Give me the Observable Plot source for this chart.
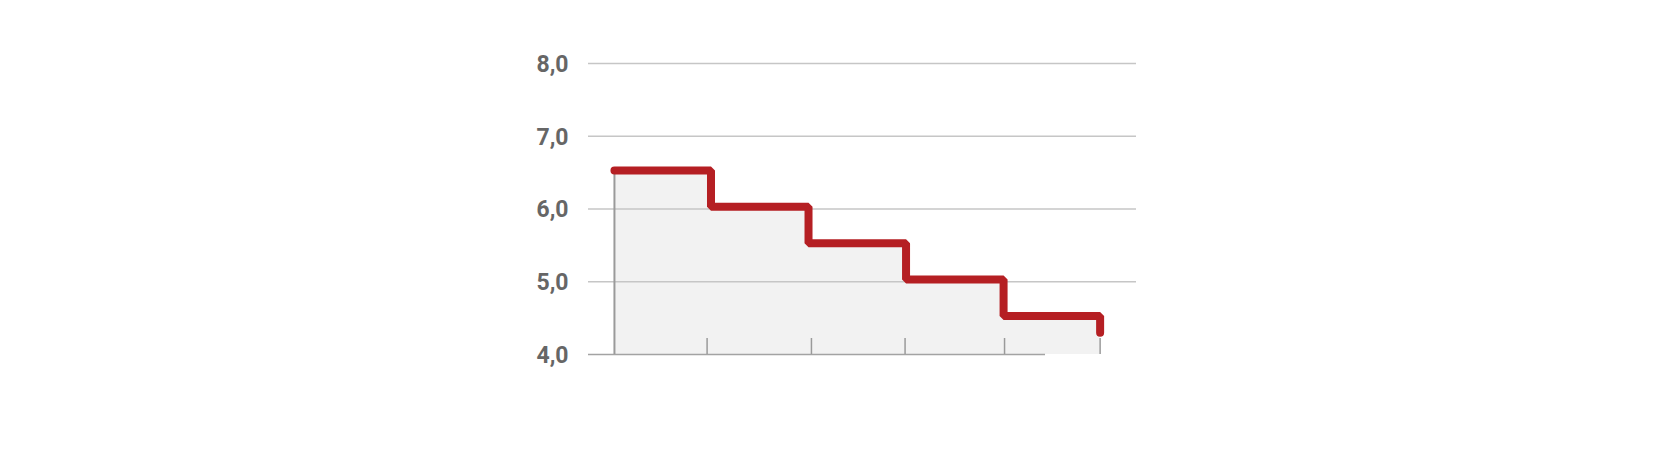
<!DOCTYPE html>
<html>
<head>
<meta charset="utf-8">
<script src="https://cdn.jsdelivr.net/npm/d3@7"></script>
<script src="https://cdn.jsdelivr.net/npm/@observablehq/plot@0.6"></script>
<style>
  html, body { margin: 0; padding: 0; background: #ffffff; }
  #chart svg { display: block; }
</style>
</head>
<body>
<div id="chart"></div>
<script>
// Step positions (x, in step units) and rate values
const stepX = [0.02, 1.01, 2.01, 3.01, 4.01, 5.0];
const rate = [6.53, 6.03, 5.53, 5.03, 4.53, 4.3];
// x-axis tick positions
const tickX = [0.97, 2.04, 3.0, 4.02, 5.0];
// y-axis ticks
const yTicks = [4, 5, 6, 7, 8];
const baseline = 4;
// x extents (data units): full frame and bottom axis line
const xDomain = [-0.246, 5.373];
const axisLineX = [-0.246, 4.44];

const data = stepX.map((x, i) => ({x, v: rate[i]}));
const fmt = d => d.toFixed(1).replace(".", ",");

const chart = Plot.plot({
  width: 1660,
  height: 476,
  marginLeft: 588,
  marginRight: 524,
  marginTop: 63,
  marginBottom: 122,
  style: {fontFamily: "Roboto", fontSize: "23px", fontWeight: 700, color: "#666666", background: "#ffffff", overflow: "visible"},
  x: {domain: xDomain, axis: null},
  y: {domain: [4, 8], axis: null},
  marks: [
    Plot.areaY(data, {x: "x", y1: baseline, y2: "v", curve: "step-after", fill: "#f2f2f2"}),
    Plot.ruleY(yTicks.filter(d => d !== baseline), {stroke: "#c6c6c6", strokeWidth: 1.5}),
    Plot.ruleY([baseline], {x1: axisLineX[0], x2: axisLineX[1], stroke: "#a3a3a3", strokeWidth: 1.5}),
    Plot.ruleX([stepX[0]], {y1: baseline, y2: rate[0], stroke: "#9a9a9a", strokeWidth: 2}),
    Plot.ruleX(tickX, {y1: baseline, y2: baseline, insetTop: -16, stroke: "#9a9a9a", strokeWidth: 1.5}),
    Plot.line(data, {x: "x", y: "v", curve: "step-after", stroke: "#b51f23", strokeWidth: 8, strokeLinecap: "round", strokeLinejoin: "miter"}),
    Plot.axisY({ticks: yTicks, label: null, tickSize: 0, tickPadding: 20, tickFormat: fmt, fill: "#666666", fontSize: 23, fontWeight: 700, letterSpacing: 0.8, dy: 1})
  ]
});
document.getElementById("chart").append(chart);
</script>
</body>
</html>
